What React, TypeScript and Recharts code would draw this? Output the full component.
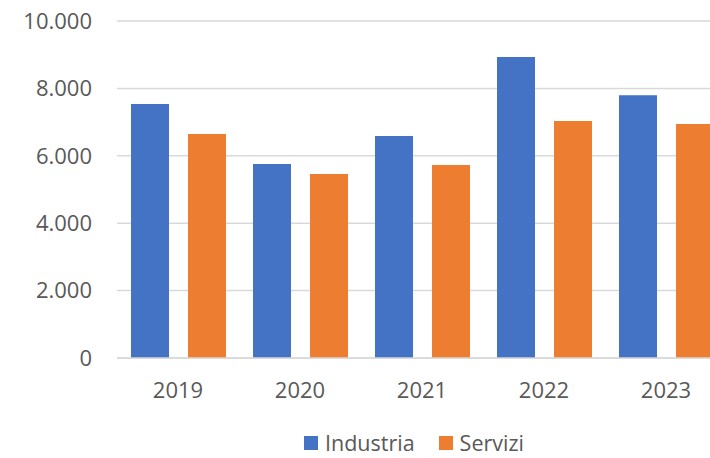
import { BarChart, Bar, XAxis, YAxis, CartesianGrid, Legend } from 'recharts';

const years = ['2019', '2020', '2021', '2022', '2023'];
const industria = [7540, 5760, 6590, 8930, 7800];
const servizi = [6650, 5460, 5730, 7030, 6940];
const yTicks = [0, 2000, 4000, 6000, 8000, 10000];

const data = years.map((year, i) => ({
  year,
  Industria: industria[i],
  Servizi: servizi[i],
}));

const FONT = '"Open Sans", sans-serif';
const TEXT = '#595959';

const fmt = (v: number) => v.toLocaleString('it-IT', { useGrouping: true }).replace(/\s/g, '.');

const renderLegend = (props: any) => {
  const items = props.payload || [];
  return (
    <div style={{ height: 30, display: 'flex', alignItems: 'flex-start', paddingLeft: 304, paddingTop: 3, fontFamily: FONT, fontSize: 21.5, color: TEXT, boxSizing: 'border-box' }}>
      {items.map((it: any, i: number) => (
        <div key={it.value} style={{ display: 'flex', alignItems: 'center', marginLeft: i === 0 ? 0 : 24, lineHeight: '24px', height: 24 }}>
          <span style={{ width: 14, height: 14, background: it.color, display: 'inline-block', marginRight: 7 }} />
          <span>{it.value}</span>
        </div>
      ))}
    </div>
  );
};

export default function App() {
  return (
    <div style={{ position: 'fixed', left: 0, top: 0, width: 710, height: 458, overflow: 'hidden', background: '#fff' }}>
      <BarChart
        width={727}
        height={458}
        data={data}
        margin={{ top: 21, right: 0, left: 0, bottom: 0 }}
        barSize={38}
        barGap={19}
      >
        <CartesianGrid vertical={false} stroke="#d9d9d9" strokeWidth={1.5} />
        <XAxis
          dataKey="year"
          height={70}
          tickLine={false}
          axisLine={{ stroke: '#d9d9d9', strokeWidth: 1.5 }}
          tickMargin={18}
          tick={{ fill: TEXT, fontSize: 22, fontFamily: FONT }}
        />
        <YAxis
          width={117}
          domain={[0, 10000]}
          ticks={yTicks}
          tickFormatter={(v: number) => fmt(v)}
          tickLine={false}
          axisLine={false}
          tickMargin={19}
          tick={{ fill: TEXT, fontSize: 22, fontFamily: FONT }}
        />
        <Legend
          verticalAlign="bottom"
          content={renderLegend}
          wrapperStyle={{ left: 0, width: 727 }}
        />
        <Bar dataKey="Industria" fill="#4472c4" isAnimationActive={false} />
        <Bar dataKey="Servizi" fill="#ed7d31" isAnimationActive={false} />
      </BarChart>
    </div>
  );
}
